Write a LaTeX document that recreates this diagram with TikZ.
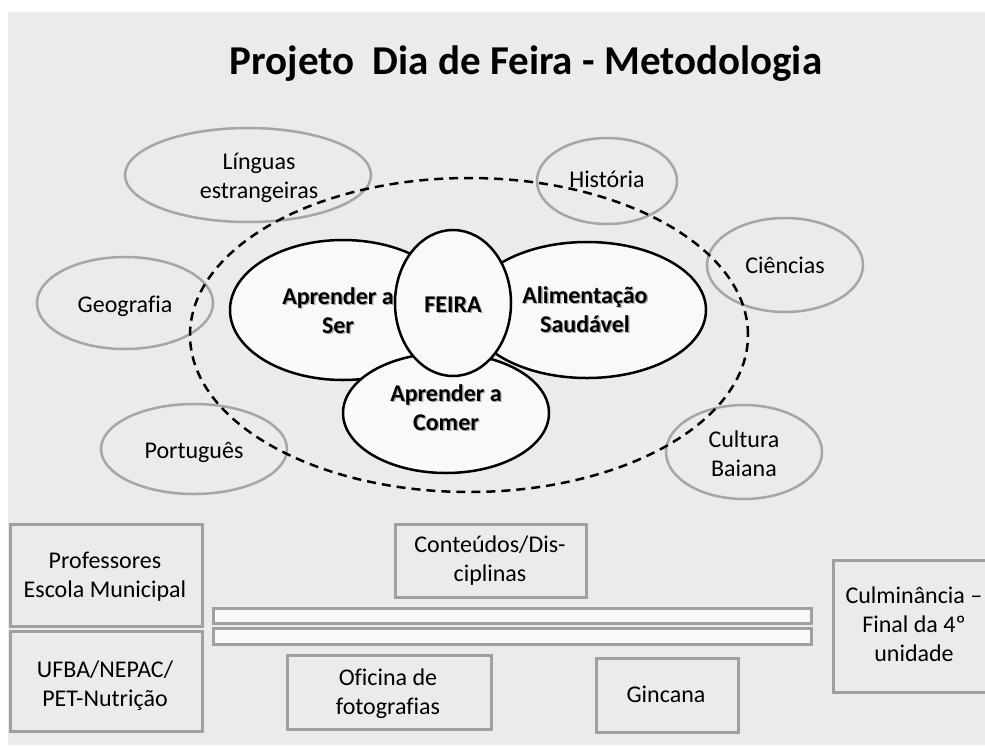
\documentclass[tikz,border=0pt]{standalone}
\usepackage{fontspec}
\setmainfont{Carlito}[Ligatures=NoCommon]
\usetikzlibrary{shapes.geometric}
\definecolor{bggray}{HTML}{EBEBEB}
\definecolor{edgegray}{HTML}{A6A6A6}
\definecolor{boxedge}{HTML}{A0A0A0}
\definecolor{paper}{HTML}{F9F9F9}
\newcommand{\shd}[1]{\leavevmode\rlap{\hspace{1.3pt}\raisebox{-1.3pt}{\color{black!35}#1}}#1}
\newcommand{\twol}[2]{\begin{tabular}[t]{@{}c@{}}#1\\#2\end{tabular}}
\begin{document}
\begin{tikzpicture}[x=1pt,y=-1pt,
  txt/.style={font=\fontsize{24}{29}\selectfont, inner sep=0pt, anchor=base},
  boldtxt/.style={font=\fontsize{24}{29}\selectfont\bfseries, inner sep=0pt, anchor=base},
  subj/.style={ellipse, draw=edgegray, line width=2.5pt, inner sep=0pt},
  core/.style={ellipse, draw=black, fill=paper, line width=2.5pt, inner sep=0pt},
  box/.style={draw=boxedge, line width=2.5pt, fill=bggray, inner sep=0pt, anchor=north west},
  bar/.style={draw=boxedge, line width=2.5pt, fill=paper, inner sep=0pt, anchor=north west}]
\useasboundingbox (0,0) rectangle (985,745);
\fill[white] (0,0) rectangle (985,745);
\fill[bggray] (8,12) rectangle (985,745);

\node[font=\fontsize{41}{49}\selectfont\bfseries, anchor=base, inner sep=0pt] (title) at (526,74) {Projeto\ \ Dia de Feira - Metodologia};

% subject ellipses
\node[subj, minimum width=246pt, minimum height=94pt] (elin) at (248,175) {};
\node[subj, minimum width=140pt, minimum height=86pt] (ehis) at (607,181) {};
\node[subj, minimum width=156pt, minimum height=94pt] (ecie) at (785,265) {};
\node[subj, minimum width=176pt, minimum height=92pt] (egeo) at (125,303) {};
\node[subj, minimum width=186pt, minimum height=90pt] (epor) at (194,449) {};
\node[subj, minimum width=156pt, minimum height=94pt] (ecul) at (744,452) {};

% dashed ring
\node[ellipse, draw=black, line width=2.5pt, dash pattern=on 9pt off 6pt, inner sep=0pt, minimum width=558pt, minimum height=314pt] (ring) at (469,335) {};

% core ellipses
\node[core, minimum width=226pt, minimum height=140pt] (eser) at (343,310) {};
\node[core, minimum width=206pt, minimum height=120pt] (ecom) at (446,413) {};
\node[core, minimum width=238pt, minimum height=136pt] (eali) at (587,310) {};
\node[core, minimum width=116pt, minimum height=146pt] (efei) at (453,303) {};

% subject texts
\node[txt] (tlin) at (259,169) {\twol{Línguas}{estrangeiras}};
\node[txt] (this) at (607,187) {História};
\node[txt] (tcie) at (785,273) {Ciências};
\node[txt] (tgeo) at (125,312) {Geografia};
\node[txt] (tpor) at (194,458) {Português};
\node[txt] (tcul) at (744,447) {\twol{Cultura}{Baiana}};

% core texts
\node[boldtxt] (tser) at (338,304) {\twol{\shd{Aprender a}}{\shd{Ser}}};
\node[boldtxt] (tfei) at (453,312) {\shd{FEIRA}};
\node[boldtxt] (tali) at (585,303) {\twol{\shd{Alimentação}}{\shd{Saudável}}};
\node[boldtxt] (tcom) at (446,401) {\twol{\shd{Aprender a}}{\shd{Comer}}};

% bottom boxes
\node[box, minimum width=192pt, minimum height=102pt] (bprof) at (9,523) {};
\node[box, minimum width=192pt, minimum height=100pt] (bufba) at (9,630) {};
\node[box, minimum width=191pt, minimum height=73pt] (bcont) at (394,523) {};
\node[bar, minimum width=598pt, minimum height=15pt] (bar1) at (212,607) {};
\node[bar, minimum width=598pt, minimum height=16pt] (bar2) at (212,627) {};
\node[box, minimum width=204pt, minimum height=74pt] (bofic) at (286,654) {};
\node[box, minimum width=142pt, minimum height=74pt] (bginc) at (595,657) {};
\node[box, minimum width=164pt, minimum height=132pt] (bculm) at (832,559) {};

\node[txt] (tprof) at (105,568) {\twol{Professores}{Escola Municipal}};
\node[txt] (tufba) at (105,677) {\twol{UFBA/NEPAC/}{PET-Nutrição}};
\node[txt] (tcont) at (490,552) {\twol{Conteúdos/Dis-}{ciplinas}};
\node[txt] (tofic) at (388,685) {\twol{Oficina de}{fotografias}};
\node[txt] (tginc) at (666,702) {Gincana};
\node[txt] (tculm) at (914,603) {\begin{tabular}[t]{@{}c@{}}Culminância –\\Final da 4º\\unidade\end{tabular}};
\end{tikzpicture}
\end{document}
